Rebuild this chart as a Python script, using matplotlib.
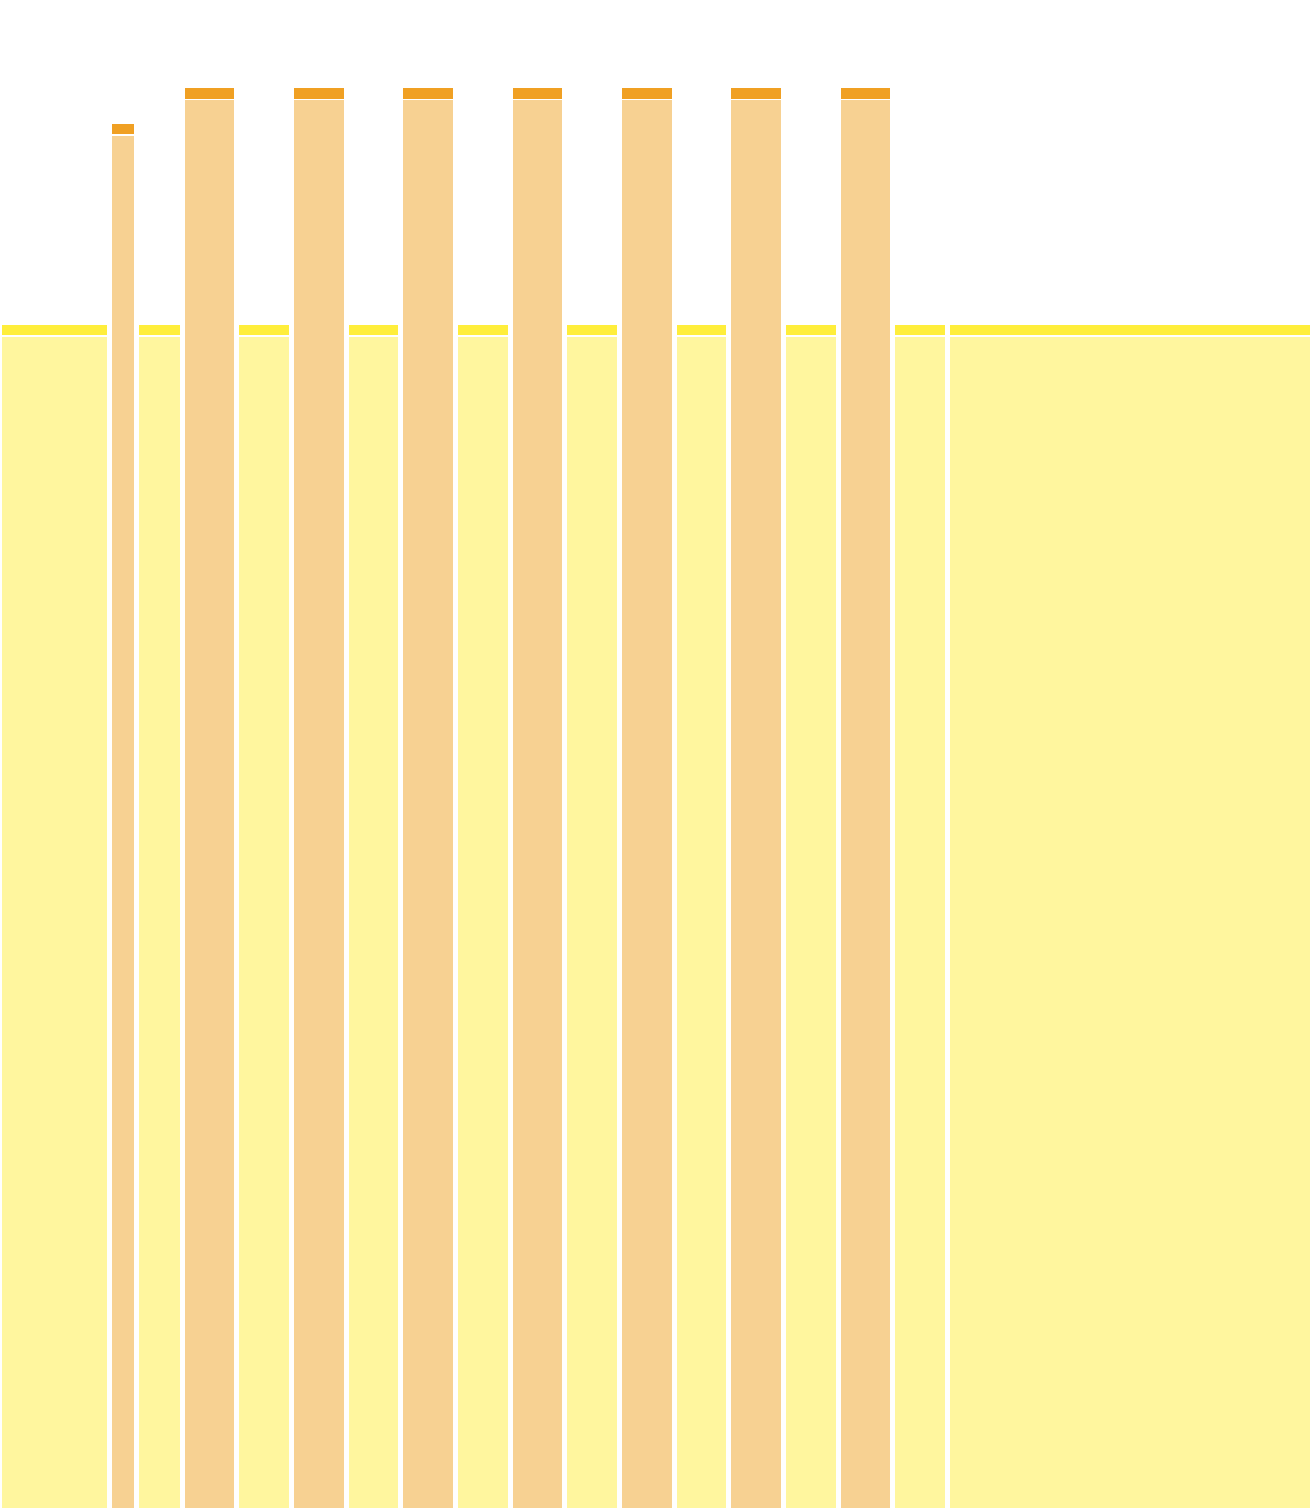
import numpy as np
import matplotlib
matplotlib.use("Agg")
import matplotlib.pyplot as plt

# Segments of a 24-hour timeline: duration (hours), level, kind
durations = [2.0, 0.5, 0.8333, 1.0, 1.0, 1.0, 1.0, 1.0, 1.0, 1.0,
             1.0, 1.0, 1.0, 1.0, 1.0, 1.0, 1.0, 6.6667]
levels = [5.0, 5.85, 5.0, 6.0, 5.0, 6.0, 5.0, 6.0, 5.0, 6.0,
          5.0, 6.0, 5.0, 6.0, 5.0, 6.0, 5.0, 5.0]
kinds = ["low", "high", "low", "high", "low", "high", "low", "high", "low", "high",
         "low", "high", "low", "high", "low", "high", "low", "low"]

body_colors = {"low": "#FFF69E", "high": "#F7D192"}
cap_colors = {"low": "#FFEE3B", "high": "#F0A023"}

CAP = 0.045     # thickness of the darker top strip
SEP = 0.007     # white separation between strip and body
GAP = 0.09      # horizontal white gap between segments (hours)

fig = plt.figure(figsize=(13.12, 15.08), dpi=100)
ax = fig.add_axes([0, 0, 1, 1])

starts = np.concatenate([[0], np.cumsum(durations)[:-1]])
for s, d, h, k in zip(starts, durations, levels, kinds):
    x = s + GAP / 2
    w = d - GAP
    ax.bar(x, h - CAP - SEP, width=w, bottom=0, align="edge",
           color=body_colors[k], linewidth=0)
    ax.bar(x, CAP, width=w, bottom=h - CAP, align="edge",
           color=cap_colors[k], linewidth=0)

ax.set_xlim(0, 24)
ax.set_ylim(0, 6.372)
ax.axis("off")
fig.savefig("out.png", dpi=100, facecolor="white")
